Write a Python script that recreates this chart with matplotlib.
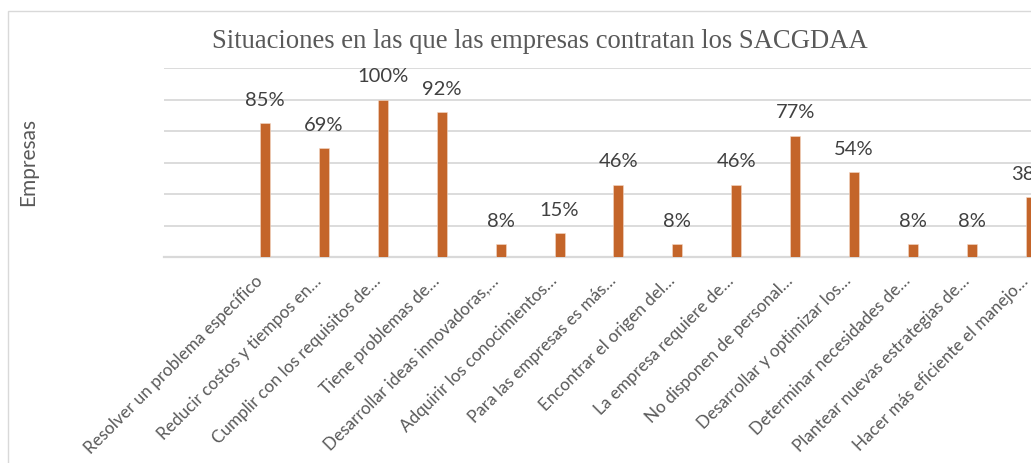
import numpy as np
import matplotlib
matplotlib.use("Agg")
import matplotlib.pyplot as plt
from matplotlib.patches import Rectangle
from matplotlib.transforms import ScaledTranslation

# situaciones (etiquetas recortadas como en el libro de Excel)
situaciones = [
    "Resolver un problema específico",
    "Reducir costos y tiempos en…",
    "Cumplir con los requisitos de…",
    "Tiene problemas de…",
    "Desarrollar ideas innovadoras,…",
    "Adquirir los conocimientos…",
    "Para las empresas es más…",
    "Encontrar el origen del…",
    "La empresa requiere de…",
    "No disponen de personal…",
    "Desarrollar y optimizar los…",
    "Determinar necesidades de…",
    "Plantear nuevas estrategias de…",
    "Hacer más eficiente el manejo…",
]
# porcentaje de empresas
porcentajes = [85, 69, 100, 92, 8, 15, 46, 8, 46, 77, 54, 8, 8, 38]

titulo = "Situaciones en las que las empresas contratan los SACGDAA"
eje_y = "Empresas"

naranja = "#C4652A"
gris_txt = "#595959"
gris_lin = "#D9D9D9"
sans = ["Lato", "DejaVu Sans"]

W, H = 1031, 463
fig = plt.figure(figsize=(W / 100, H / 100), dpi=100)
fig.patch.set_facecolor("white")

# marco del grafico
fig.patches.append(Rectangle((8 / W, -0.2), 1.2, 1.2 - 11 / H,
                             transform=fig.transFigure, fill=False,
                             edgecolor=gris_lin, linewidth=1.0))

# area de trazado (sale por la derecha, la imagen queda recortada)
x_ini = -1.715
x_fin = 14.0
ancho_cat = 58.9
ax = fig.add_axes([164 / W, (H - 257) / H,
                   (x_fin - x_ini) * ancho_cat / W, (257 - 68) / H])
ax.set_xlim(x_ini, x_fin)
ax.set_ylim(0, 120)

x = np.arange(len(situaciones))
ax.bar(x, porcentajes, width=10 / ancho_cat, color=naranja,
       edgecolor="#F4D9C8", linewidth=0.4, zorder=3)

for xi, v in zip(x, porcentajes):
    ax.annotate(f"{v}%", (xi, v), xytext=(0, 12.5), textcoords="offset points",
                ha="center", va="baseline", fontsize=14.5, color="#404040",
                family=sans, zorder=4, annotation_clip=False)

ax.set_yticks(np.arange(0, 121, 20))
ax.yaxis.grid(True, color=gris_lin, linewidth=1.3, zorder=0)
ax.tick_params(axis="y", left=False, labelleft=False)
ax.tick_params(axis="x", bottom=False, pad=12)
for s in ["top", "right", "left"]:
    ax.spines[s].set_visible(False)
ax.spines["bottom"].set_color(gris_lin)
ax.spines["bottom"].set_linewidth(1.6)

ax.set_xticks(x)
ax.set_xticklabels(situaciones, rotation=45, ha="right", va="center",
                   rotation_mode="anchor", fontsize=12.3, color=gris_txt,
                   family=sans)
# correr un poco las etiquetas a la izquierda
corrimiento = ScaledTranslation(-5 / 100, 0, fig.dpi_scale_trans)
for lab in ax.get_xticklabels():
    lab.set_transform(lab.get_transform() + corrimiento)

fig.text(540 / W, (H - 48) / H, titulo, ha="center", va="baseline",
         fontsize=19.2, color=gris_txt, family="Liberation Serif")
fig.text(28 / W, (H - 162) / H, eje_y, rotation=90, ha="center", va="center",
         fontsize=15, color=gris_txt, family=sans)

fig.savefig("out.png", dpi=100)
